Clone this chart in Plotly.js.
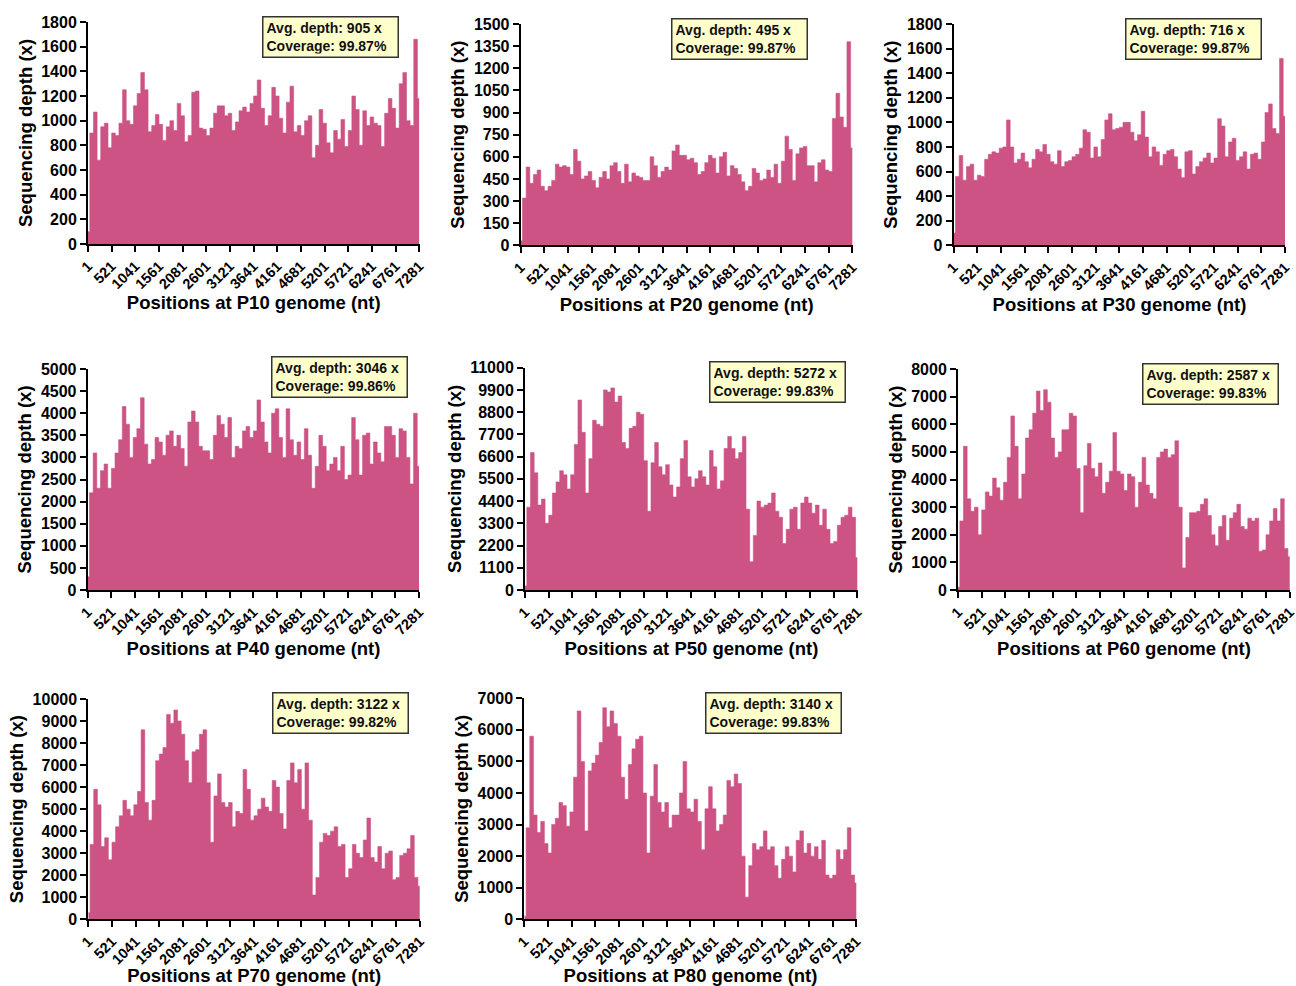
<!DOCTYPE html>
<html>
<head>
<meta charset="utf-8">
<script src="https://cdn.plot.ly/plotly-3.0.1.min.js"></script>
<style>
  html, body { margin: 0; padding: 0; background: #ffffff; }
  #chart { width: 1296px; height: 986px; }
</style>
</head>
<body>
<div id="chart"></div>
<script>
// Sequencing depth along the genome, one panel per passage.
// Each value is the mean depth of an 80-nt window centred on the listed position.
const windowSize = 80;
const genomeEnd = 7281;

const tickPositions = [1, 521, 1041, 1561, 2081, 2601, 3121, 3641, 4161, 4681, 5201, 5721, 6241, 6761, 7281];
const tickLabels = ["1", "521", "1041", "1561", "2081", "2601", "3121", "3641", "4161", "4681", "5201", "5721", "6241", "6761", "7281"];

const passages = ["P10", "P20", "P30", "P40", "P50", "P60", "P70", "P80"];
const avgDepth = [905, 495, 716, 3046, 5272, 2587, 3122, 3140];
const coverage = ["99.87", "99.87", "99.87", "99.86", "99.83", "99.83", "99.82", "99.83"];
const yMax = [1800, 1500, 1800, 5000, 11000, 8000, 10000, 7000];
const yStep = [200, 150, 200, 500, 1100, 1000, 1000, 1000];

const depthP10 = [100, 900, 1070, 680, 950, 980, 780, 900, 880, 980, 1250, 1000, 970, 1120, 1220, 1390, 1250, 910, 960, 1050,
  970, 840, 950, 1000, 920, 1140, 1040, 830, 880, 1230, 1240, 940, 930, 880, 940, 1060, 1120, 1120, 1040, 1060,
  920, 990, 1080, 1110, 1070, 1140, 1200, 1330, 1100, 960, 1040, 1270, 1200, 1020, 900, 1150, 1280, 910, 960, 880,
  1000, 1040, 700, 800, 1090, 980, 820, 740, 920, 850, 1010, 790, 920, 1200, 1090, 800, 1080, 960, 1030, 980,
  960, 790, 1060, 1180, 1100, 940, 1300, 1390, 1000, 960, 1660, 1180];

const depthP20 = [30, 320, 530, 420, 480, 510, 400, 370, 400, 440, 550, 530, 540, 530, 480, 650, 570, 450, 470, 500,
  440, 390, 460, 500, 450, 540, 560, 500, 420, 550, 430, 490, 470, 460, 440, 440, 600, 540, 460, 500,
  530, 510, 640, 680, 610, 610, 580, 590, 560, 480, 500, 560, 610, 590, 490, 600, 630, 470, 540, 520,
  480, 430, 370, 400, 520, 490, 440, 450, 510, 460, 550, 420, 570, 740, 650, 440, 620, 660, 670, 540,
  540, 430, 560, 580, 510, 500, 860, 1030, 870, 800, 1380, 660];

const depthP30 = [100, 560, 730, 530, 640, 660, 530, 570, 560, 700, 740, 760, 750, 790, 800, 1020, 800, 670, 700, 750,
  680, 630, 700, 780, 760, 820, 740, 680, 660, 770, 640, 680, 690, 720, 740, 790, 940, 920, 710, 800,
  720, 860, 1020, 1070, 940, 950, 960, 1000, 1000, 920, 850, 900, 1090, 880, 720, 800, 760, 650, 740, 770,
  780, 720, 620, 550, 760, 770, 580, 640, 680, 710, 750, 670, 710, 1030, 970, 720, 840, 870, 690, 720,
  760, 620, 740, 750, 700, 840, 1080, 1150, 950, 910, 1520, 1050];

const depthP40 = [300, 2200, 3100, 2300, 2700, 2850, 2300, 2750, 3100, 3400, 4150, 3750, 3000, 3450, 3650, 4350, 3300, 2850, 2950, 3450,
  3350, 3050, 3500, 3600, 3250, 3500, 3200, 2800, 3800, 4050, 3800, 3250, 3150, 3150, 2950, 3500, 3950, 3750, 3450, 3900,
  3000, 3250, 3200, 3600, 3700, 3450, 3600, 4300, 3800, 3350, 3100, 4000, 4100, 3450, 3000, 4100, 3400, 3050, 3350, 2950,
  3650, 3050, 2300, 2800, 3500, 3250, 2700, 2850, 3000, 2700, 3250, 2500, 2600, 3900, 3400, 2600, 3500, 3550, 2850, 3350,
  3100, 2900, 3700, 3700, 3500, 3000, 3650, 3600, 3000, 2400, 4000, 2800];

const depthP50 = [200, 4100, 6800, 5800, 4200, 4500, 3300, 3700, 4800, 5350, 5900, 5700, 5000, 5700, 7200, 9400, 7800, 4800, 6500, 8400,
  8200, 8100, 9900, 9800, 10000, 9300, 9600, 7300, 7000, 8000, 8100, 8800, 8700, 6400, 3900, 6300, 7300, 6100, 5700, 6200,
  5200, 4600, 5100, 6500, 7400, 5600, 5100, 5500, 5900, 5600, 5200, 6900, 6100, 5000, 5400, 7000, 7600, 7000, 6500, 6800,
  7600, 4000, 1400, 2700, 4400, 4100, 4200, 4300, 4800, 3900, 3600, 2300, 3000, 4000, 4100, 3000, 4300, 4600, 4300, 3800,
  4200, 3200, 4000, 3000, 2300, 2400, 3200, 3600, 3700, 4100, 3600, 1600];

const depthP60 = [100, 2500, 5200, 3300, 2850, 3000, 2000, 2900, 3550, 3400, 4050, 3700, 3250, 3900, 4800, 6300, 5200, 3300, 4200, 5500,
  5800, 6400, 7200, 6500, 7250, 6800, 5500, 4800, 5000, 5800, 5800, 6400, 6300, 4400, 2800, 4500, 5300, 4400, 4100, 4600,
  3500, 3900, 4300, 5700, 4300, 4200, 3600, 4200, 4100, 3000, 3900, 4800, 3800, 3500, 3300, 4800, 5000, 5100, 4800, 4900,
  5400, 3000, 800, 1900, 2800, 2800, 2850, 3100, 3300, 2700, 2000, 1600, 2300, 2700, 1800, 2600, 2800, 3100, 2300, 2200,
  2600, 2500, 2600, 1400, 1450, 2000, 2500, 2950, 2500, 3300, 1500, 1200];

const depthP70 = [300, 3400, 5900, 5200, 3300, 3700, 2700, 3500, 4200, 4700, 5400, 5000, 4700, 5200, 5800, 8600, 5300, 4500, 5400, 7200,
  7500, 7800, 9300, 8900, 9500, 9000, 8400, 7200, 6200, 7600, 7700, 8400, 8600, 6200, 3500, 5600, 6600, 5300, 5100, 5300,
  4200, 4900, 4800, 6800, 5900, 4500, 4700, 5000, 5500, 5100, 4900, 6300, 6000, 4800, 4100, 6300, 7100, 6200, 6800, 5000,
  7100, 4500, 1100, 1900, 3500, 3900, 3800, 4000, 4200, 3300, 3400, 1900, 2300, 3400, 3000, 2800, 3600, 4600, 2800, 2600,
  3300, 2300, 3000, 3100, 1800, 1900, 2900, 3000, 3200, 3800, 1900, 1500];

const depthP80 = [100, 2900, 5800, 3300, 2750, 3100, 2400, 2100, 3000, 3200, 3700, 3600, 2950, 3400, 4500, 6600, 5000, 2800, 4700, 4950,
  5200, 5600, 6700, 6100, 6600, 6200, 5800, 4500, 3800, 4900, 5400, 5700, 5800, 4000, 2100, 3900, 4900, 3700, 3400, 3700,
  2900, 3300, 3300, 4000, 5000, 3500, 3400, 3800, 3100, 2200, 3500, 4200, 3500, 2800, 3000, 3300, 4400, 4200, 4600, 4300,
  2000, 700, 1700, 2400, 2200, 2300, 2800, 2200, 2300, 1700, 1300, 1900, 2300, 2000, 1500, 2500, 2800, 2100, 2400, 2000,
  2300, 1900, 2500, 1400, 1300, 1400, 2200, 1900, 2200, 2900, 1400, 1150];

const depthSeries = [depthP10, depthP20, depthP30, depthP40, depthP50, depthP60, depthP70, depthP80];

// Window centres along the genome
const windowCentres = [];
for (let p = 1; p <= genomeEnd; p += windowSize) windowCentres.push(p);

// Panel frames in page pixels: [left, right, top, bottom]
const W = 1296, H = 986;
const frames = [
  [88, 419.5, 22, 244],
  [520.7, 852.7, 24, 245.3],
  [953.7, 1285.3, 24, 245.3],
  [87.7, 419.3, 369, 590],
  [525, 857.7, 367.7, 590],
  [958, 1290, 369, 590],
  [88.3, 420, 699, 919.3],
  [524.3, 856.7, 698.3, 919.3]
];
// Info boxes: [left, top]
const boxes = [
  [262, 16], [671, 18], [1125, 18],
  [271, 356], [709, 361], [1142, 363],
  [272, 692], [705, 692]
];

const fillColor = "#CC5384";
const fontFamily = "'Liberation Sans', Arial, sans-serif";
const traces = [];
const layout = {
  width: W, height: H,
  margin: { l: 0, r: 0, t: 0, b: 0 },
  paper_bgcolor: "#ffffff",
  plot_bgcolor: "rgba(0,0,0,0)",
  showlegend: false,
  font: { family: fontFamily, color: "#000000" },
  annotations: []
};

depthSeries.forEach((vals, k) => {
  const n = k + 1;
  const xa = n === 1 ? "x" : "x" + n;
  const ya = n === 1 ? "y" : "y" + n;
  traces.push({
    type: "scatter",
    mode: "lines",
    x: windowCentres,
    y: vals,
    xaxis: xa, yaxis: ya,
    line: { shape: "hvh", width: 0.6, color: fillColor },
    fill: "tozeroy",
    fillcolor: fillColor,
    hoverinfo: "skip"
  });
  const f = frames[k];
  const xKey = n === 1 ? "xaxis" : "xaxis" + n;
  const yKey = n === 1 ? "yaxis" : "yaxis" + n;
  layout[xKey] = {
    domain: [f[0] / W, f[1] / W],
    anchor: ya,
    range: [1, genomeEnd + 6],
    tickmode: "array",
    tickvals: tickPositions,
    ticktext: tickLabels,
    tickangle: -45,
    ticklabeloverflow: "allow",
    ticks: "outside",
    ticklen: 6,
    tickwidth: 2,
    tickcolor: "#000",
    showline: true,
    linewidth: 2,
    linecolor: "#000",
    showgrid: false,
    zeroline: false,
    tickfont: { size: 14.5, family: fontFamily, weight: "bold", color: "#000" },
    title: {
      text: "Positions at " + passages[k] + " genome (nt)",
      font: { size: 18.5, family: fontFamily, weight: "bold", color: "#000" },
      standoff: 2
    }
  };
  layout[yKey] = {
    domain: [1 - f[3] / H, 1 - f[2] / H],
    anchor: xa,
    range: [0, yMax[k]],
    dtick: yStep[k],
    tick0: 0,
    tickformat: "d",
    ticks: "outside",
    ticklen: 6,
    tickwidth: 2,
    tickcolor: "#000",
    showline: true,
    linewidth: 2,
    linecolor: "#000",
    showgrid: false,
    zeroline: false,
    tickfont: { size: 16, family: fontFamily, weight: "bold", color: "#000" },
    title: {
      text: "Sequencing depth (x)",
      font: { size: 18.5, family: fontFamily, weight: "bold", color: "#000" },
      standoff: 4
    }
  };
  const b = boxes[k];
  layout.annotations.push({
    xref: "paper", yref: "paper",
    x: b[0] / W, y: 1 - b[1] / H,
    xanchor: "left", yanchor: "top",
    showarrow: false,
    align: "left",
    width: 128,
    height: 33,
    text: "Avg. depth: " + avgDepth[k] + " x<br>Coverage: " + coverage[k] + "%",
    font: { size: 14, family: fontFamily, weight: "bold", color: "#111" },
    bgcolor: "#FFFFCC",
    bordercolor: "#333333",
    borderwidth: 1.5,
    borderpad: 3
  });
});

Plotly.newPlot("chart", traces, layout, { displayModeBar: false, staticPlot: true });
</script>
</body>
</html>
